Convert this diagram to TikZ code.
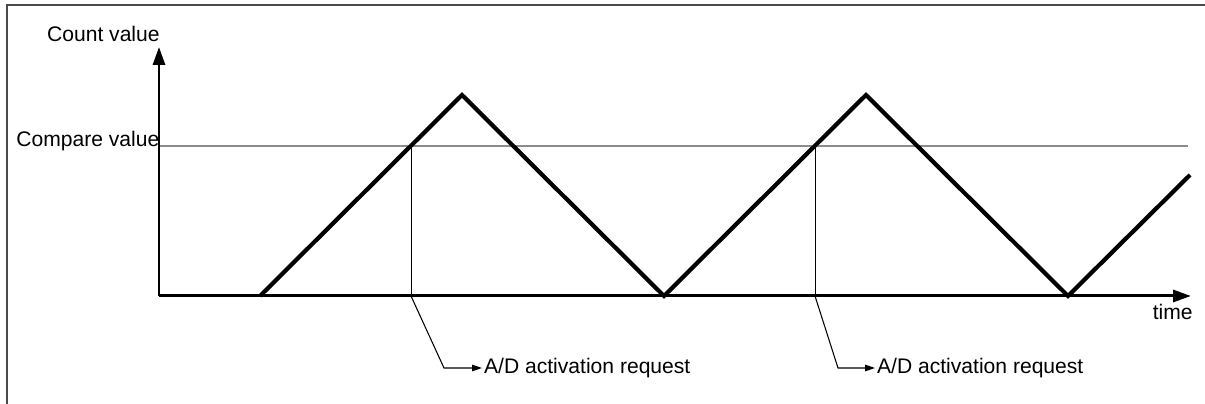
\documentclass[tikz,border=0pt]{standalone}
\usepackage{fontspec}
\setmainfont{Liberation Sans}
\usetikzlibrary{arrows.meta,positioning,calc}
\definecolor{TWInk}{HTML}{000000}
\definecolor{TWGuide}{HTML}{8C8C8C}
\definecolor{TWFrame}{HTML}{4A4A4A}
\tikzset{
  axis/.style={-{Triangle[length=3.6mm,width=2.4mm]},TWInk,line width=1.7pt},
  wave/.style={TWInk,line width=2.4pt,line join=miter},
  guide/.style={TWGuide,line width=0.6pt},
  drop/.style={TWInk,line width=0.5pt},
  leader/.style={-{Triangle[length=2.0mm,width=1.3mm]},TWInk,line width=0.6pt},
  frame/.style={TWFrame,line width=1.1pt},
  label/.style={text=TWInk,font=\fontsize{12}{14}\selectfont,inner sep=0pt},
}
\begin{document}
\begin{tikzpicture}[x=0.02cm,y=-0.02cm]
    \useasboundingbox (0,0) rectangle (1205,404);
    \draw[frame] (7,404) -- (7,5) -- (1205,5);
    % axes
    \coordinate (o) at (159,296);
    \coordinate (ytop) at (159,47);
    \coordinate (xend) at (1191,296);
    \node[label,anchor=base east] (cnt) at (160,42) {Count value};
    \node[label,anchor=base west] (cmp) at (16,147) {Compare value};
    \node[label,anchor=base east] (tm) at (1193,320) {time};
    \coordinate (cmpend) at (1188,146);
    \draw[guide] (cmp.east |- cmpend) -- (cmpend);
    \draw[axis] (o) -- (ytop);
    \draw[axis] (o) -- (xend);
    % triangular count
    \draw[wave] (260,296) -- (462,95) -- (664,296) -- (866,95) -- (1068,296) -- (1190,175);
    % A/D requests
    \coordinate (k1) at (411,146);
    \coordinate (b1) at (411,296);
    \coordinate (e1) at (444,368);
    \node[label,anchor=west,inner xsep=1pt] (req1) at (482,368) {A/D activation request};
    \coordinate (k2) at (815,146);
    \coordinate (b2) at (815,296);
    \coordinate (e2) at (838,368);
    \node[label,anchor=west,inner xsep=1pt] (req2) at (875,368) {A/D activation request};
    \draw[drop] (k1) -- (b1);
    \draw[drop] (k2) -- (b2);
    \draw[leader] (b1) -- (e1) -- (req1.west);
    \draw[leader] (b2) -- (e2) -- (req2.west);
\end{tikzpicture}
\end{document}
